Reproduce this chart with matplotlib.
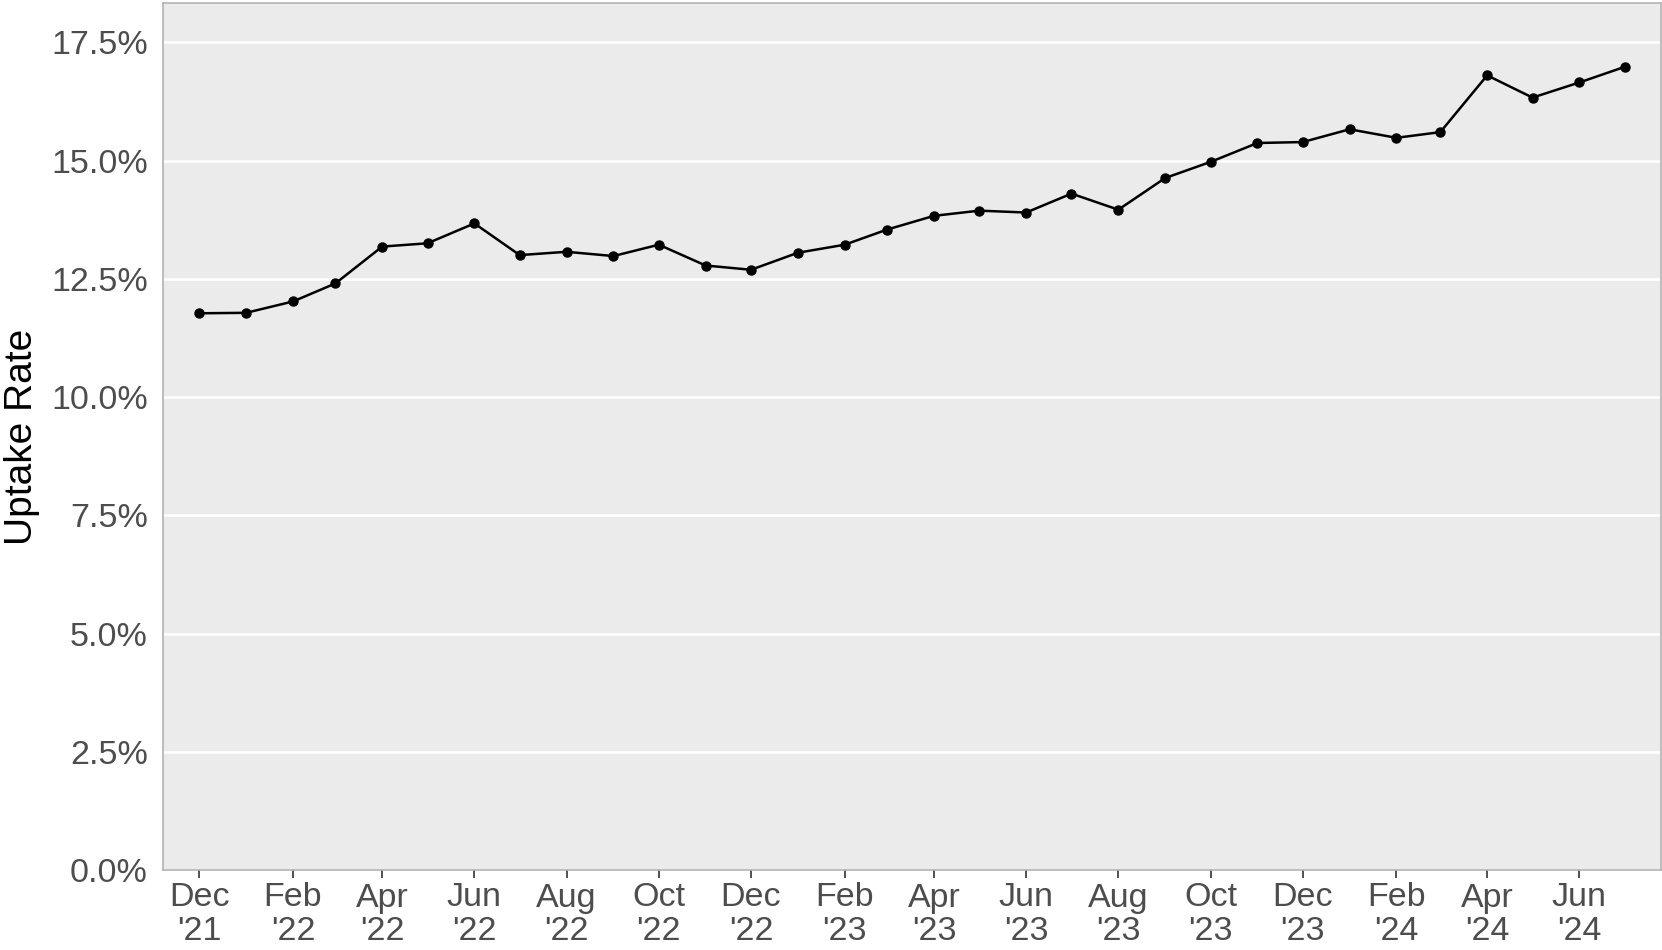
import datetime as dt

import matplotlib.pyplot as plt
from matplotlib.ticker import FuncFormatter, MultipleLocator

plt.rcParams["font.family"] = ["Liberation Sans", "DejaVu Sans"]

# monthly uptake rate (%), Dec 2021 .. Jul 2024
months = [dt.date(2021 + (11 + i) // 12, (11 + i) % 12 + 1, 1) for i in range(32)]
uptake = [
    11.77, 11.78, 12.02, 12.40, 13.18, 13.25, 13.67, 13.00,
    13.07, 12.98, 13.22, 12.78, 12.69, 13.05, 13.22, 13.54,
    13.83, 13.94, 13.90, 14.30, 13.96, 14.63, 14.97, 15.37,
    15.39, 15.66, 15.48, 15.60, 16.80, 16.33, 16.65, 16.98,
]
tick_months = months[::2]

fig = plt.figure(figsize=(16.62, 9.5), dpi=100)
ax = fig.add_axes([163 / 1662, 1 - 870 / 950, (1661 - 163) / 1662, (870 - 3) / 950])

ax.set_facecolor("#ebebeb")
for s in ax.spines.values():
    s.set_color("#b3b3b3")
    s.set_linewidth(1.2)

ax.plot(months, uptake, color="black", lw=1.8, marker="o", ms=6.5, zorder=3)

pad = dt.timedelta(days=24)
ax.set_xlim(months[0] - pad, months[-1] + pad)
ax.set_ylim(0, 18.33)

ax.yaxis.set_major_locator(MultipleLocator(2.5))
ax.yaxis.set_major_formatter(FuncFormatter(lambda v, p: f"{v:.1f}%"))
ax.grid(axis="y", color="white", lw=1.8)
ax.grid(axis="x", visible=False)
ax.set_axisbelow(True)

ax.set_xticks(tick_months)
ax.set_xticklabels([d.strftime("%b\n'%y") for d in tick_months], linespacing=1.1)

ax.tick_params(axis="x", length=6, width=1.2, color="#333333", labelcolor="#4d4d4d",
               labelsize=24.5, pad=3)
ax.tick_params(axis="y", length=0, labelcolor="#4d4d4d", labelsize=24.5, pad=11)

ax.set_ylabel("Uptake Rate", fontsize=28, color="black", va="center")
ax.yaxis.set_label_coords(-0.094, 0.5)

fig.savefig("out.png", dpi=100)
